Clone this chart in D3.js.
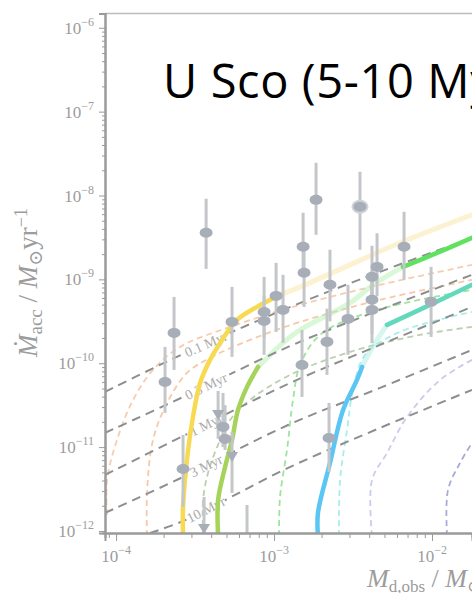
<!DOCTYPE html>
<html>
<head>
<meta charset="utf-8">
<script src="https://cdn.jsdelivr.net/npm/d3@7/dist/d3.min.js"></script>
<style>
  html, body { margin: 0; padding: 0; background: #fff; }
  svg { display: block; }
</style>
</head>
<body>
<svg id="chart" width="472" height="593"></svg>
<script>
// ---- Axis decades (log10) ----
const xTickExps = [-4, -3, -2];
const yTickExps = [-12, -11, -10, -9, -8, -7, -6];

// ---- Isochrones: [log10 Md, log10 Macc] ----
const isoLabels = ["0.1 Myr", "0.3 Myr", "1 Myr", "3 Myr", "10 Myr"];
const iso01 = [[-4.070, -10.342], [-3.576, -9.889], [-2.911, -9.340], [-2.329, -8.910], [-1.747, -8.505]];
const iso03 = [[-4.070, -10.831], [-3.576, -10.402], [-2.911, -9.805], [-2.329, -9.364], [-1.747, -8.946]];
const iso1  = [[-4.070, -11.332], [-3.576, -10.867], [-2.911, -10.246], [-2.329, -9.781], [-1.747, -9.328]];
const iso3  = [[-4.070, -11.785], [-3.576, -11.356], [-2.911, -10.736], [-2.329, -10.294], [-1.747, -9.841]];
const iso10 = [[-3.785, -12.024], [-3.576, -11.881], [-2.911, -11.248], [-2.329, -10.771], [-1.747, -10.318]];

// ---- Evolution tracks, highlighted segments ----
const trackYellow = [[-3.576, -12.06], [-3.576, -11.714], [-3.544, -11.034], [-3.513, -10.640], [-3.468, -10.235],
  [-3.405, -9.960], [-3.329, -9.722], [-3.234, -9.483], [-3.108, -9.328], [-2.962, -9.185]];
const trackLime = [[-3.354, -12.06], [-3.354, -11.630], [-3.310, -11.237], [-3.266, -10.914], [-3.228, -10.557],
  [-3.171, -10.282], [-3.101, -10.044]];
const trackGreen = [[-2.184, -8.851], [-2.013, -8.720], [-1.747, -8.505]];
const trackTeal = [[-2.285, -9.543], [-2.013, -9.304], [-1.747, -9.065]];
const trackBlue = [[-2.722, -12.06], [-2.722, -11.785], [-2.646, -11.189], [-2.563, -10.557], [-2.475, -10.199], [-2.443, -10.044]];

// ---- Evolution tracks, earlier (faded) segments ----
const fadedYellow = [[-2.962, -9.185], [-2.835, -9.089], [-2.519, -8.827], [-2.203, -8.564], [-1.747, -8.230]];
const fadedGreen = [[-3.101, -10.044], [-2.943, -9.757], [-2.835, -9.602], [-2.519, -9.280], [-2.373, -9.065], [-2.184, -8.851]];
const fadedTeal = [[-2.443, -10.044], [-2.380, -9.817], [-2.285, -9.543]];

// ---- Alternative model tracks (thin dashed) ----
const dashPeachA = [[-4.057, -11.809], [-4.057, -11.392], [-3.994, -10.914], [-3.892, -10.437], [-3.766, -10.079],
  [-3.595, -9.805], [-3.278, -9.567], [-2.835, -9.304], [-2.329, -9.065], [-1.747, -8.827]];
const dashPeachB = [[-3.804, -12.06], [-3.804, -11.547], [-3.766, -10.914], [-3.677, -10.473], [-3.551, -10.115],
  [-3.405, -9.936], [-3.152, -9.722], [-2.835, -9.507], [-2.329, -9.244], [-1.747, -9.006]];
const dashSage = [[-3.449, -12.06], [-3.449, -11.630], [-3.418, -11.308], [-3.361, -11.002], [-3.278, -10.676],
  [-3.152, -10.437], [-2.899, -10.139], [-2.519, -9.865], [-2.076, -9.662], [-1.747, -9.567]];
const dashGreen = [[-2.968, -12.06], [-2.962, -11.594], [-2.918, -11.034], [-2.880, -10.437], [-2.835, -10.020],
  [-2.709, -9.662], [-2.392, -9.388], [-1.747, -9.125]];
const dashCyan = [[-2.589, -12.06], [-2.582, -11.392], [-2.538, -10.795], [-2.500, -10.318], [-2.424, -9.900],
  [-2.203, -9.626], [-1.747, -9.388]];
const dashLavender = [[-2.380, -12.06], [-2.380, -11.392], [-2.285, -11.070], [-2.158, -10.640], [-1.949, -10.199], [-1.747, -9.960]];
const dashPurple = [[-1.905, -12.06], [-1.899, -11.511], [-1.823, -11.189], [-1.747, -10.950]];

// ---- Observed discs: log10 Md, log10 Macc with error range ----
const starLogMd   = [-3.690, -3.633, -3.576, -3.430, -3.323, -3.310, -3.354, -3.266, -3.443, -3.266,
  -3.063, -3.063, -2.987, -2.943, -2.816, -2.810, -2.734, -2.456, -2.646, -2.665,
  -2.532, -2.823, -2.380, -2.348, -2.380, -2.380, -2.177, -2.006, -2.652, -3.171];
const starLogAcc  = [-10.223, -9.638, -11.260, -8.445, -10.759, -10.903, -10.616, -11.117, -11.976, -9.507,
  -9.388, -9.495, -9.197, -9.364, -8.612, -8.922, -8.052, -8.135, -9.065, -9.745,
  -9.471, -10.020, -8.970, -8.851, -9.244, -9.364, -8.612, -9.268, -10.891, -12.3];
const starAccHi   = [-9.805, -9.209, -10.855, -8.040, -10.354, -10.50, -10.33, -10.819, -11.594, -9.089,
  -8.970, -9.20, -8.803, -8.946, -8.207, -8.60, -7.610, -7.718, -8.648, -9.35,
  -9.065, -9.602, -8.60, -8.45, -8.90, -9.00, -8.195, -8.851, -10.473, -11.690];
const starAccLo   = [-10.592, -10.079, -11.714, -8.875, -11.00, -11.034, -10.90, -11.547, -12.1, -9.924,
  -9.70, -9.900, -9.626, -9.757, -8.95, -9.328, -8.469, -8.648, -9.50, -10.139,
  -9.900, -10.402, -9.30, -9.20, -9.65, -9.76, -9.006, -9.686, -11.296, -12.5];
const starUpperLimit = [0, 0, 0, 0, 0, 0, 1, 1, 1, 0, 0, 0, 0, 0, 0, 0, 0, 0, 0, 0,
  0, 0, 0, 0, 0, 0, 0, 0, 0, 0];
const starHighlighted = [0, 0, 0, 0, 0, 0, 0, 0, 0, 0, 0, 0, 0, 0, 0, 0, 0, 1, 0, 0,
  0, 0, 0, 0, 0, 0, 0, 0, 0, 0];

// ---------------- drawing ----------------
const W = 472, H = 593;
const plotL = 105, plotR = 472, plotT = 13.5, plotB = 533;
const svg = d3.select("#chart");

const x = d3.scaleLog().domain([10 ** -4.07, 10 ** -1.747]).range([plotL, plotR]);
const y = d3.scaleLog().domain([10 ** -12.024, 10 ** -5.83]).range([plotB, plotT]);
const px = d => x(10 ** d[0]);
const py = d => y(10 ** d[1]);

const defs = svg.append("defs");
defs.append("clipPath").attr("id", "plotClip")
  .append("rect").attr("x", plotL).attr("y", plotT).attr("width", plotR - plotL).attr("height", plotB - plotT);

const line = d3.line().x(px).y(py).curve(d3.curveCatmullRom.alpha(0.5));

const plot = svg.append("g").attr("clip-path", "url(#plotClip)");

// isochrone label positions and gaps
const isoSets = [iso01, iso03, iso1, iso3, iso10];
const labelCenterX = 206;
const labelInfo = isoSets.map(pts => {
  const p = pts.map(d => [px(d), py(d)]);
  let i = 0;
  while (i < p.length - 2 && p[i + 1][0] < labelCenterX) i++;
  const [x0, y0] = p[i], [x1, y1] = p[i + 1];
  const t = (labelCenterX - x0) / (x1 - x0);
  const ang = Math.atan2(y1 - y0, x1 - x0) * 180 / Math.PI;
  return { cx: labelCenterX, cy: y0 + t * (y1 - y0), ang };
});

const mask = defs.append("mask").attr("id", "isoMask")
  .attr("maskUnits", "userSpaceOnUse").attr("x", 0).attr("y", 0).attr("width", W).attr("height", H);
mask.append("rect").attr("width", W).attr("height", H).attr("fill", "#fff");
labelInfo.forEach((L, i) => {
  const w = isoLabels[i].length > 6 ? 52 : 42;
  mask.append("rect").attr("x", -w / 2).attr("y", -7).attr("width", w).attr("height", 14)
    .attr("fill", "#000")
    .attr("transform", `translate(${L.cx},${L.cy}) rotate(${L.ang})`);
});

// thin dashed alternative tracks
const dashed = [
  [dashPeachA, "#f6cdb0"], [dashPeachB, "#f6c9aa"], [dashSage, "#bccfae"], [dashGreen, "#9fe39f"],
  [dashCyan, "#a9eded"], [dashLavender, "#c9cced"], [dashPurple, "#a9acd9"]
];
plot.append("g").selectAll("path").data(dashed).join("path")
  .attr("d", d => line(d[0])).attr("fill", "none")
  .attr("stroke", d => d[1]).attr("stroke-width", 1.8).attr("stroke-dasharray", "6,4");

// faded early parts of tracks
const faded = [[fadedYellow, "#f8e39a"], [fadedGreen, "#a8f0a8"], [fadedTeal, "#a6eadb"]];
plot.append("g").selectAll("path").data(faded).join("path")
  .attr("d", d => line(d[0])).attr("fill", "none")
  .attr("stroke", d => d[1]).attr("stroke-width", 5).attr("stroke-opacity", 0.45)
  .attr("stroke-linecap", "round");

// isochrones
const isoG = plot.append("g").attr("mask", "url(#isoMask)");
isoG.selectAll("path").data(isoSets).join("path")
  .attr("d", d => line(d)).attr("fill", "none")
  .attr("stroke", "#8e8e8e").attr("stroke-width", 2).attr("stroke-dasharray", "9,6");

plot.append("g").selectAll("text").data(labelInfo).join("text")
  .attr("transform", d => `translate(${d.cx},${d.cy}) rotate(${d.ang})`)
  .attr("text-anchor", "middle").attr("dy", "0.35em")
  .attr("font-family", "'Liberation Serif', 'DejaVu Serif', serif")
  .attr("font-size", 14).attr("fill", "#ababab")
  .text((d, i) => isoLabels[i]);

// highlighted track segments
const solid = [
  [trackYellow, "#f8da52"], [trackLime, "#a6d35a"], [trackGreen, "#5fe25f"],
  [trackTeal, "#62d9bd"], [trackBlue, "#5bc6f4"]
];
plot.append("g").selectAll("path").data(solid).join("path")
  .attr("d", d => line(d[0])).attr("fill", "none")
  .attr("stroke", d => d[1]).attr("stroke-width", 4.5)
  .attr("stroke-linecap", "round").attr("stroke-linejoin", "round");

// observed discs
const stars = starLogMd.map((m, i) => ({
  m, a: starLogAcc[i], hi: starAccHi[i], lo: starAccLo[i],
  lim: starUpperLimit[i], hl: starHighlighted[i]
}));
const sg = plot.append("g");
sg.selectAll("line").data(stars).join("line")
  .attr("x1", d => x(10 ** d.m)).attr("x2", d => x(10 ** d.m))
  .attr("y1", d => y(10 ** d.hi)).attr("y2", d => y(10 ** d.lo))
  .attr("stroke", "#c4c6c9").attr("stroke-width", 3);
sg.selectAll("ellipse.halo").data(stars.filter(d => d.hl)).join("ellipse")
  .attr("class", "halo")
  .attr("cx", d => x(10 ** d.m)).attr("cy", d => y(10 ** d.a))
  .attr("rx", 8.5).attr("ry", 7).attr("fill", "#d0d3d8");
sg.selectAll("ellipse.dot").data(stars.filter(d => !d.lim)).join("ellipse")
  .attr("class", "dot")
  .attr("cx", d => x(10 ** d.m)).attr("cy", d => y(10 ** d.a))
  .attr("rx", 6.5).attr("ry", 5).attr("fill", "#a7aeb8");
sg.selectAll("path.lim").data(stars.filter(d => d.lim)).join("path")
  .attr("class", "lim")
  .attr("transform", d => `translate(${x(10 ** d.m)},${y(10 ** d.a)})`)
  .attr("d", "M-6,-5 L6,-5 L0,5 Z").attr("fill", "#a7aeb8");

// ---- frame and axes ----
svg.append("line").attr("x1", plotL).attr("x2", plotR).attr("y1", plotT).attr("y2", plotT)
  .attr("stroke", "#bdbdbd").attr("stroke-width", 1.5);

const minorVals = (lo, hi) => {
  const out = [];
  for (let e = lo; e <= hi; e++) for (let k = 2; k <= 9; k++) out.push(k * 10 ** e);
  return out;
};
const axisColor = "#9a9a9a";

const xMinor = minorVals(-5, -2).filter(v => v >= x.domain()[0] && v <= x.domain()[1]);
const yMinor = minorVals(-13, -6).filter(v => v >= y.domain()[0] && v <= y.domain()[1]);

const gx = svg.append("g").attr("transform", `translate(0,${plotB})`);
gx.call(d3.axisBottom(x).tickValues(xMinor).tickSize(5).tickFormat(""));
const gxMaj = svg.append("g").attr("transform", `translate(0,${plotB})`);
gxMaj.call(d3.axisBottom(x).tickValues(xTickExps.map(e => 10 ** e)).tickSize(8).tickFormat(""));
[gx, gxMaj].forEach(g => {
  g.select(".domain").attr("stroke", axisColor).attr("stroke-width", 2);
  g.selectAll(".tick line").attr("stroke", axisColor);
});

const gy = svg.append("g").attr("transform", `translate(${plotL},0)`);
gy.call(d3.axisLeft(y).tickValues(yMinor).tickSize(3).tickFormat(""));
const gyMaj = svg.append("g").attr("transform", `translate(${plotL},0)`);
gyMaj.call(d3.axisLeft(y).tickValues(yTickExps.map(e => 10 ** e)).tickSize(6).tickFormat(""));
[gy, gyMaj].forEach(g => {
  g.select(".domain").attr("stroke", axisColor).attr("stroke-width", 2);
  g.selectAll(".tick line").attr("stroke", axisColor);
});

const serif = "'Liberation Serif', 'DejaVu Serif', serif";
const labelColor = "#9c9c9c";

// y tick labels 10^n
yTickExps.forEach(e => {
  const t = svg.append("text").attr("x", 94).attr("y", y(10 ** e) + 6)
    .attr("text-anchor", "end").attr("font-family", serif).attr("font-size", 17).attr("fill", labelColor);
  t.append("tspan").text("10");
  t.append("tspan").attr("dy", -8).attr("font-size", 12).text("\u2212" + Math.abs(e));
});
// x tick labels 10^n
xTickExps.forEach(e => {
  const t = svg.append("text").attr("x", x(10 ** e)).attr("y", 562)
    .attr("text-anchor", "middle").attr("font-family", serif).attr("font-size", 17).attr("fill", labelColor);
  t.append("tspan").text("10");
  t.append("tspan").attr("dy", -8).attr("font-size", 12).text("\u2212" + Math.abs(e));
});

// axis titles
const xt = svg.append("text").attr("x", 367).attr("y", 587)
  .attr("font-family", serif).attr("font-size", 26).attr("fill", labelColor);
xt.append("tspan").attr("font-style", "italic").text("M");
xt.append("tspan").attr("font-size", 17).attr("dy", 5).text("d,obs");
xt.append("tspan").attr("dy", -5).text(" / ");
xt.append("tspan").attr("font-style", "italic").text("M");
xt.append("tspan").attr("font-size", 17).attr("dy", 5).text("\u2299");

const yt = svg.append("text").attr("transform", "translate(37,357) rotate(-90)")
  .attr("font-family", serif).attr("font-size", 27).attr("fill", labelColor);
yt.append("tspan").attr("font-style", "italic").text("\u1E40");
yt.append("tspan").attr("font-size", 19).attr("dy", 5).text("acc");
yt.append("tspan").attr("dy", -5).text(" / ");
yt.append("tspan").attr("font-style", "italic").text("M");
yt.append("tspan").attr("font-size", 19).attr("dy", 5).text("\u2299");
yt.append("tspan").attr("dy", -5).text("yr");
yt.append("tspan").attr("font-size", 18).attr("dy", -10).text("\u22121");

// title
svg.append("text").attr("x", 163).attr("y", 98)
  .attr("font-family", "'Open Sans', 'Liberation Sans', sans-serif").attr("font-size", 47)
  .attr("letter-spacing", 0.6)
  .attr("fill", "#000").text("U Sco (5-10 Myr)");
</script>
</body>
</html>
